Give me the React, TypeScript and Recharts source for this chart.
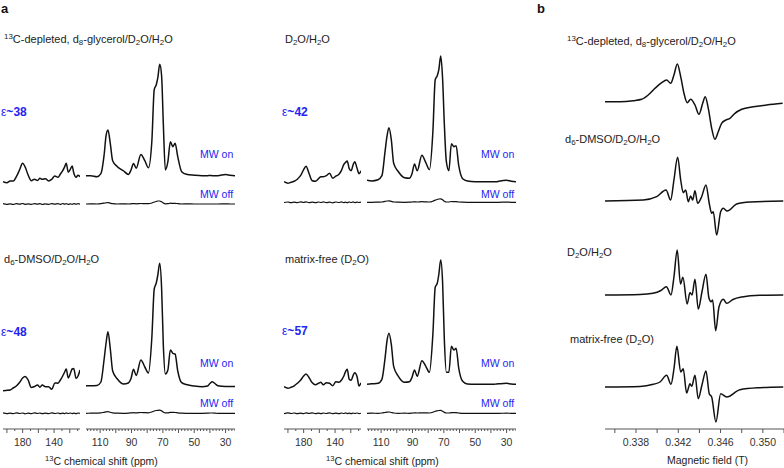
import React from 'react';
import { LineChart, Line, XAxis, YAxis } from 'recharts';

// ---------- 13C DNP NMR (panel a) ----------
// chemical shift grids (ppm) for the two parts of the broken axis
const leftShift = [205, 200, 196, 192, 188, 184, 180, 177, 173, 169, 165, 161, 158, 155, 151, 147, 143, 139, 135, 132, 129, 126.5, 124.5, 122, 119.5, 117, 115, 112, 109.5, 107];
const rightShift = [119, 116, 112, 109.5, 107.5, 106.2, 105, 103.5, 102, 99, 95, 92, 90.3, 88.7, 87, 84, 81.5, 79.2, 77, 75.5, 74.2, 73.2, 72, 70.8, 69.7, 68.4, 66.8, 65.2, 63.6, 62.2, 60.5, 58, 55, 50, 45, 41.5, 40, 38.5, 36.5, 35, 30, 27, 24];

// intensities (a.u.), MW on
const glycerolOnLeft = [-6, -7, -5.3, -5.3, -1, 5.7, 12.4, 9, 0.7, -5, -3.5, -4.8, -2.6, -3.6, -3, -5.3, -3.6, -0.3, -1.6, 1.7, 5, 9, 12.4, 3.5, 6, 9.7, 3, -1.6, 0.5, -1];
const glycerolOnRight = [0, 0, -1, 2, 20, 40, 45.7, 32, 15, 9, 4.7, 1.3, 5.7, 12.3, 7.5, 21.3, 15, 8, 35, 86, 91, 98, 111.4, 100, 52, 5.7, 14, 34, 29, 32.4, 19, 4, 1.4, 0.5, 0, 0, 0.3, 0, 0, 0, 1.2, 0.5, 0];
const waterOnLeft = [0, -1.5, -0.5, 0.5, 2.5, 6, 12, 15.5, 8, 1, 0.5, 3, 5, 5, 6, 8.4, 3.5, 5.5, 7.5, 11, 17, 19.5, 20.7, 13, 11, 17, 20, 13.4, 8, 11];
const waterOnRight = [1.5, 0.8, 2, 6, 30, 46, 54, 42, 18.4, 10, 4, 3.5, 8, 17.7, 11, 26.4, 19, 12, 50, 102, 106, 112, 125.7, 103, 58, 20, 11, 38, 35, 36, 16, 3, 0.7, 0, 0, 0, 0, 0, 0, 0.5, 1.5, 0.5, 0];
const dmsoOnLeft = [-3.7, -3.3, -3, -1, 1, 4.5, 9, 10.5, 7, -0.5, 0.5, 2, -0.3, 2, 0.3, 0.3, -2.3, 4, 3.8, 7, 11, 15, 18, 9, 13, 18, 18.5, 8.5, 11, 17];
const dmsoOnRight = [1.3, 1.3, 1.5, 5, 27, 44, 55.3, 38, 16, 8, 3, 4, 8.5, 17.7, 11.5, 27, 20, 14, 50, 98, 104, 112, 123.7, 99, 42, 13, 17, 37, 33.7, 33, 16, 4.3, 2.5, 1, 0.3, 1, 3.5, 5.3, 3, 1.3, 0.5, 0.5, 0.5];
const matrixOnLeft = [-2.4, -4, -3, -1.5, 1, 4, 8.3, 10.3, 6.5, 1.5, -0.5, 1, 2, -0.5, 1.6, 1, -1.4, 2.5, 2, 4, 8, 13, 15, 5, 4, 9, 11.6, 7.6, -1.7, 1.6];
const matrixOnRight = [0, 0.5, 1, 5, 26, 44, 51, 40, 18, 8, 2, 2.5, 7, 14.3, 8, 23.6, 18, 12, 50, 97, 101, 110, 124.3, 102, 45, 12, 12, 38, 34.3, 36, 16, 3, 0.3, 0, 0, 0, 0, 0, 0.3, 0.5, 1, 0.3, 0];

// intensities (a.u.), MW off
const glycerolOffLeft = [0.3, -0.4, 0.2, -0.5, 0.4, -0.2, 0.5, -0.3, 0.2, -0.4, 0.3, -0.2, 0.4, -0.5, 0.2, -0.3, 0.4, -0.2, 0.3, -0.4, 0.5, -0.2, 0.3, -0.4, 0.2, -0.3, 0.4, -0.2, 0.3, -0.1];
const glycerolOffRight = [0, 0.2, 0, 0.3, 0.8, 1.2, 1.4, 0.8, 0.3, 0, 0.2, 0, 0.2, 0.4, 0.2, 0.5, 0.3, 0.3, 1, 2, 2.5, 3, 3, 2.2, 1, 0.2, 0.3, 0.8, 0.6, 0.7, 0.3, 0, 0.1, 0, 0, 0, 0, 0, 0, 0, 0.1, 0, 0];
const waterOffLeft = [-0.2, 0.3, -0.4, 0.2, -0.3, 0.4, -0.2, 0.5, -0.3, 0.2, -0.4, 0.3, -0.2, 0.4, -0.3, 0.2, -0.5, 0.3, -0.2, 0.4, -0.3, 0.2, -0.4, 0.3, -0.2, 0.4, -0.3, 0.2, -0.2, 0.1];
const waterOffRight = [0, 0, 0.2, 0.3, 0.9, 1.3, 1.5, 0.9, 0.3, 0.1, 0, 0.1, 0.3, 0.5, 0.3, 0.6, 0.4, 0.3, 1.1, 2.2, 2.8, 3.3, 3.5, 2.5, 1.1, 0.3, 0.3, 0.8, 0.7, 0.7, 0.3, 0.1, 0, 0, 0, 0, 0, 0, 0, 0, 0.2, 0, 0];
const dmsoOffLeft = [0.4, -0.3, 0.2, -0.4, 0.5, -0.2, 0.3, -0.5, 0.2, -0.3, 0.4, -0.2, 0.3, -0.4, 0.2, -0.3, 0.5, -0.2, 0.3, -0.4, 0.2, -0.3, 0.4, -0.2, 0.3, -0.3, 0.2, -0.4, 0.3, 0];
const dmsoOffRight = [0, 0.1, 0.2, 0.4, 1, 1.4, 1.6, 1, 0.4, 0.1, 0, 0.2, 0.4, 0.6, 0.4, 0.8, 0.6, 0.5, 1.3, 2.3, 2.8, 3, 3.1, 2.4, 1.2, 0.4, 0.5, 1, 0.9, 0.8, 0.4, 0.1, 0, 0, 0, 0.1, 0.3, 0.3, 0.1, 0, 0, 0, 0];
const matrixOffLeft = [-0.3, 0.4, -0.2, 0.3, -0.4, 0.2, -0.3, 0.4, -0.2, 0.5, -0.3, 0.2, -0.4, 0.3, -0.2, 0.4, -0.3, 0.2, -0.4, 0.3, -0.2, 0.4, -0.3, 0.2, -0.4, 0.3, -0.2, 0.3, -0.3, 0.1];
const matrixOffRight = [0, 0.1, 0, 0.3, 0.8, 1.1, 1.3, 0.8, 0.3, 0, 0.1, 0, 0.2, 0.4, 0.3, 0.5, 0.4, 0.3, 1, 2, 2.5, 2.8, 2.9, 2.1, 1, 0.3, 0.3, 0.7, 0.6, 0.6, 0.3, 0, 0, 0, 0, 0, 0, 0, 0, 0, 0.1, 0, 0];

const leftTickLabels = [180, 140];
const rightTickLabels = [110, 90, 70, 50, 30];

// ---------- EPR (panel b) ----------
// magnetic field in mT, first-derivative signal in a.u.
const glycerolEprField = [335.07, 336.49, 337.74, 338.54, 339.16, 339.8, 340.43, 340.9, 341.28, 341.59, 341.91, 342.23, 342.54, 342.85, 343.17, 343.58, 343.96, 344.31, 344.55, 344.84, 345.16, 345.47, 345.78, 346.1, 346.51, 346.89, 347.36, 348.0, 349.09, 350.36, 351.87];
const glycerolEprSignal = [0.3, 0.3, 1.3, 2.7, 7, 13.7, 19.3, 22, 18.7, 27, 38, 25.3, 8.7, -0.7, 2.7, -3, -12.3, -1.3, 5.3, -6.3, -26.3, -37.3, -29.7, -21.3, -18, -16.3, -11.3, -7.3, -4.7, -3, -1.3];
const dmsoEprField = [335.07, 338.69, 339.96, 340.84, 341.28, 341.59, 341.94, 342.23, 342.47, 342.7, 342.95, 343.17, 343.36, 343.58, 343.83, 344.21, 344.62, 344.93, 345.16, 345.31, 345.63, 346.01, 346.26, 346.63, 347.52, 348.78, 351.93];
const dmsoEprSignal = [0, 1, 4.3, 11, 1, 21, 43.7, 21, 8.3, 11, -0.7, 5, 1, 10.3, -2.3, 4.3, 16, -2.3, -12.3, -10.7, -34, -10.7, -7.3, -10, -3, -1, 0];
const waterEprField = [335.07, 338.38, 339.61, 340.36, 340.88, 341.31, 341.59, 341.9, 342.21, 342.44, 342.84, 343.11, 343.3, 343.58, 343.89, 344.24, 344.62, 344.9, 345.11, 345.25, 345.54, 345.85, 346.26, 346.58, 347.17, 348.02, 349.73, 351.93];
const waterEprSignal = [0, 0.5, 1.7, 4.5, 8.3, 0, 18, 45, 11, 17.7, -9, 2.5, 0, 15.7, -14, 3, 20.7, -3, -6.7, -5, -35.7, -12, -4.3, -8.3, -4.5, -2, -0.3, 0];
const matrixEprField = [335.07, 338.38, 339.64, 340.27, 340.9, 341.31, 341.59, 341.87, 342.23, 342.47, 342.79, 343.11, 343.27, 343.58, 343.89, 344.24, 344.62, 344.93, 345.16, 345.56, 346.01, 346.58, 347.83, 349.73, 351.93];
const matrixEprSignal = [0, 0.5, 2.7, 5, 11.7, 2.7, 18, 40.7, 15, 18.3, -6, 3.3, 0.7, 11.7, -11.7, 2, 16, -6.7, -10, -35, -6.7, -10, -2.7, -0.7, 0];

const eprTickLabels = [338, 342, 346, 350];

const FONT = '"Liberation Sans", Arial, Helvetica, sans-serif';
const BLUE = '#2424f2';
const INK = '#111';
const AXIS = '#555';

const range = (from: number, to: number, step: number) => {
    const out: number[] = [];
    for (let v = from; v <= to + 1e-9; v += step) out.push(Math.round(v * 1000) / 1000);
    return out;
};

const Sub = ({ children }: any) => (
    <sub style={{ fontSize: '0.72em', verticalAlign: '-0.3em', lineHeight: 0 }}>{children}</sub>
);
const Sup = ({ children }: any) => (
    <sup style={{ fontSize: '0.72em', verticalAlign: '0.45em', lineHeight: 0 }}>{children}</sup>
);

function Note({ x, y, size = 11, color = '#222', bold = false, children }: any) {
    return (
        <div
            style={{
                position: 'absolute',
                left: x,
                top: y,
                transform: 'translateY(-50%)',
                fontSize: size,
                fontWeight: bold ? 700 : 400,
                color,
                whiteSpace: 'nowrap',
                lineHeight: 1,
                fontFamily: FONT,
            }}
        >
            {children}
        </div>
    );
}

// axis tick with a short/long mark and an optional label
function makeTick(labels: number[], isMajor: (v: number) => boolean, format: (v: number) => string) {
    return (props: any) => {
        const { x, y, payload } = props;
        const v = payload.value;
        const labelled = labels.includes(v);
        const len = labelled || isMajor(v) ? 4 : 2;
        return (
            <g>
                <line x1={x} x2={x} y1={y} y2={y + len} stroke={AXIS} strokeWidth={1} />
                {labelled && (
                    <text x={x} y={y + 16.5} textAnchor="middle" fontSize={10.5} fontFamily={FONT} fill="#333">
                        {format(v)}
                    </text>
                )}
            </g>
        );
    };
}

const leftTick = makeTick(leftTickLabels, (v) => v % 20 === 0, (v) => String(v));
const rightTick = makeTick(rightTickLabels, (v) => v % 10 === 0, (v) => String(v));
const eprTick = makeTick(eprTickLabels, () => true, (v) => (v / 1000).toFixed(3));

function NmrSegment({ left, top, width, plotH, domain, shift, on, off, baseOn, baseOff, axis, ticks, tick }: any) {
    const data = shift.map((ppm: number, i: number) => ({ ppm, on: on[i], off: off[i] }));
    const bottom = top + plotH;
    const axisH = axis ? 32 : 0;
    return (
        <div style={{ position: 'absolute', left, top }}>
            <LineChart width={width} height={plotH + axisH} data={data} margin={{ top: 0, right: 0, bottom: 0, left: 0 }}>
                <XAxis
                    dataKey="ppm"
                    type="number"
                    domain={domain}
                    reversed
                    allowDataOverflow
                    hide={!axis}
                    height={axisH}
                    ticks={ticks}
                    interval={0}
                    tickSize={0}
                    tickMargin={0}
                    tickLine={false}
                    axisLine={{ stroke: AXIS }}
                    tick={tick}
                />
                <YAxis yAxisId="on" hide type="number" domain={[baseOn - bottom, baseOn - top]} allowDataOverflow />
                <YAxis yAxisId="off" hide type="number" domain={[baseOff - bottom, baseOff - top]} allowDataOverflow />
                <Line yAxisId="on" dataKey="on" type="monotone" stroke={INK} strokeWidth={1.5} dot={false} isAnimationActive={false} />
                <Line yAxisId="off" dataKey="off" type="monotone" stroke={INK} strokeWidth={1.2} dot={false} isAnimationActive={false} />
            </LineChart>
        </div>
    );
}

function EprTrace({ top, plotH, base, field, signal, axis }: any) {
    const data = field.map((f: number, i: number) => ({ field: f, signal: signal[i] }));
    const axisH = axis ? 35 : 0;
    return (
        <div style={{ position: 'absolute', left: 605, top }}>
            <LineChart width={179} height={plotH + axisH} data={data} margin={{ top: 0, right: 0, bottom: 0, left: 0 }}>
                <XAxis
                    dataKey="field"
                    type="number"
                    domain={[335.07, 352]}
                    allowDataOverflow
                    hide={!axis}
                    height={axisH}
                    ticks={range(336, 352, 2)}
                    interval={0}
                    tickSize={0}
                    tickMargin={0}
                    tickLine={false}
                    axisLine={{ stroke: AXIS }}
                    tick={eprTick}
                />
                <YAxis hide type="number" domain={[base - (top + plotH), base - top]} allowDataOverflow />
                <Line dataKey="signal" type="monotone" stroke={INK} strokeWidth={1.5} dot={false} isAnimationActive={false} />
            </LineChart>
        </div>
    );
}

const glycerolTitle = (
    <>
        <Sup>13</Sup>C-depleted, d<Sub>8</Sub>-glycerol/D<Sub>2</Sub>O/H<Sub>2</Sub>O
    </>
);
const dmsoTitle = (
    <>
        d<Sub>6</Sub>-DMSO/D<Sub>2</Sub>O/H<Sub>2</Sub>O
    </>
);
const waterTitle = (
    <>
        D<Sub>2</Sub>O/H<Sub>2</Sub>O
    </>
);
const matrixTitle = (
    <>
        matrix-free (D<Sub>2</Sub>O)
    </>
);

const nmrPanels = [
    { key: 'glycerol', x: 0, top: 40, plotH: 175, baseOn: 175.7, baseOff: 204, onL: glycerolOnLeft, onR: glycerolOnRight, offL: glycerolOffLeft, offR: glycerolOffRight, axis: false, title: glycerolTitle, titleY: 39, eps: '38', epsY: 112, mwOnY: 154, mwOffY: 194 },
    { key: 'water', x: 281, top: 40, plotH: 175, baseOn: 181.7, baseOff: 202.3, onL: waterOnLeft, onR: waterOnRight, offL: waterOffLeft, offR: waterOffRight, axis: false, title: waterTitle, titleY: 39, eps: '42', epsY: 112, mwOnY: 154, mwOffY: 194 },
    { key: 'dmso', x: 0, top: 245, plotH: 184, baseOn: 387, baseOff: 413.3, onL: dmsoOnLeft, onR: dmsoOnRight, offL: dmsoOffLeft, offR: dmsoOffRight, axis: true, title: dmsoTitle, titleY: 259, eps: '48', epsY: 332, mwOnY: 363, mwOffY: 403 },
    { key: 'matrix', x: 281, top: 245, plotH: 184, baseOn: 384.3, baseOff: 413.3, onL: matrixOnLeft, onR: matrixOnRight, offL: matrixOffLeft, offR: matrixOffRight, axis: true, title: matrixTitle, titleY: 259, eps: '57', epsY: 331, mwOnY: 363, mwOffY: 403 },
];

const eprPanels = [
    { key: 'glycerol', title: glycerolTitle, titleX: 567, titleY: 41, base: 102, top: 52, plotH: 100, field: glycerolEprField, signal: glycerolEprSignal },
    { key: 'dmso', title: dmsoTitle, titleX: 565, titleY: 139, base: 201, top: 151, plotH: 100, field: dmsoEprField, signal: dmsoEprSignal },
    { key: 'water', title: waterTitle, titleX: 567, titleY: 252, base: 295, top: 245, plotH: 100, field: waterEprField, signal: waterEprSignal },
    { key: 'matrix', title: matrixTitle, titleX: 570, titleY: 339, base: 387, top: 337, plotH: 92, field: matrixEprField, signal: matrixEprSignal },
];

export default function App() {
    return (
        <div style={{ position: 'relative', width: 784, height: 468, background: '#fff', overflow: 'hidden', fontFamily: FONT }}>
            <style>{'body{margin:0}'}</style>

            <Note x={1} y={8} size={13} bold color="#111">a</Note>
            <Note x={537} y={8} size={13} bold color="#111">b</Note>

            {nmrPanels.map((p) => (
                <React.Fragment key={p.key}>
                    <Note x={p.x + 4} y={p.titleY}>{p.title}</Note>
                    <Note x={p.x + 1} y={p.epsY} size={12} bold color={BLUE}>
                        <span style={{ fontWeight: 400 }}>ε</span>~{p.eps}
                    </Note>
                    <Note x={p.x + 200} y={p.mwOnY} size={10.5} color={BLUE}>MW on</Note>
                    <Note x={p.x + 200} y={p.mwOffY} size={10.5} color={BLUE}>MW off</Note>
                    <NmrSegment
                        left={p.x + 3}
                        top={p.top}
                        width={77}
                        plotH={p.plotH}
                        domain={[107, 205]}
                        shift={leftShift}
                        on={p.onL}
                        off={p.offL}
                        baseOn={p.baseOn}
                        baseOff={p.baseOff}
                        axis={p.axis}
                        ticks={range(110, 200, 10)}
                        tick={leftTick}
                    />
                    <NmrSegment
                        left={p.x + 86}
                        top={p.top}
                        width={149}
                        plotH={p.plotH}
                        domain={[24, 119]}
                        shift={rightShift}
                        on={p.onR}
                        off={p.offR}
                        baseOn={p.baseOn}
                        baseOff={p.baseOff}
                        axis={p.axis}
                        ticks={range(24, 118, 2)}
                        tick={rightTick}
                    />
                    {p.axis && (
                        <Note x={p.x + 45} y={461} size={10.5}>
                            <Sup>13</Sup>C chemical shift (ppm)
                        </Note>
                    )}
                </React.Fragment>
            ))}

            {eprPanels.map((p, i) => (
                <React.Fragment key={p.key}>
                    <Note x={p.titleX} y={p.titleY}>{p.title}</Note>
                    <EprTrace top={p.top} plotH={p.plotH} base={p.base} field={p.field} signal={p.signal} axis={i === eprPanels.length - 1} />
                </React.Fragment>
            ))}
            <Note x={667} y={460} size={10.5}>Magnetic field (T)</Note>
        </div>
    );
}
